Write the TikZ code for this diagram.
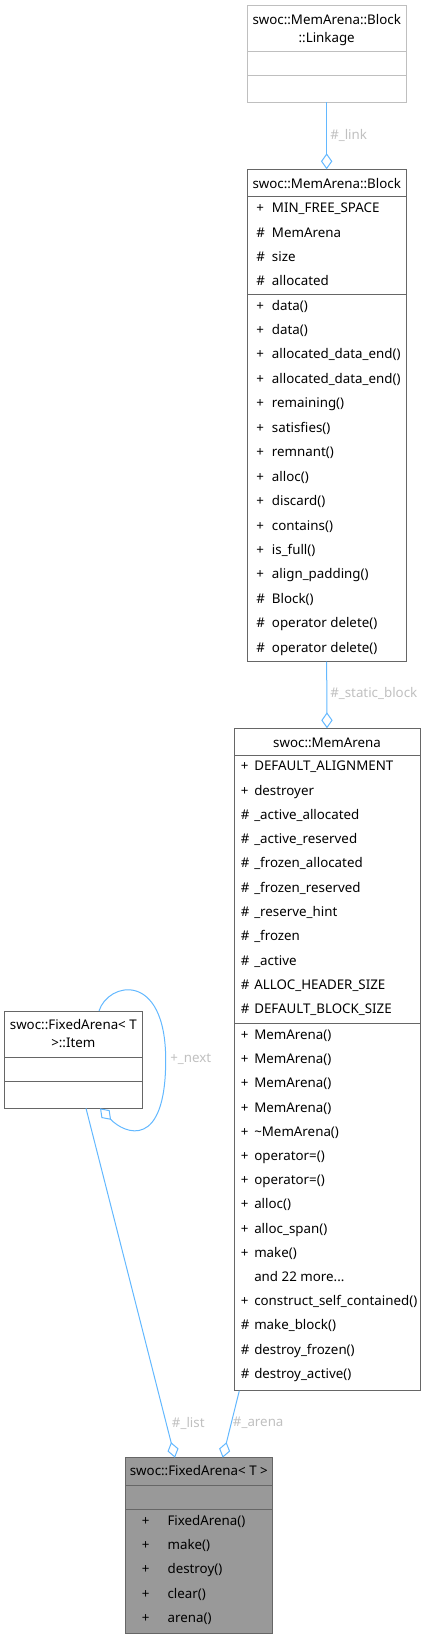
\documentclass[tikz,border=0pt]{standalone}
\usepackage{fontspec}
\setmainfont{Noto Sans}
\usetikzlibrary{arrows.meta}
\definecolor{edgec}{HTML}{63B8FF}
\definecolor{labelc}{HTML}{C0C0C0}
\definecolor{boxc}{HTML}{666666}
\definecolor{pale}{HTML}{BFBFBF}
\definecolor{mainc}{HTML}{999999}
\def\u{0.75pt}
\newcommand{\andmore}{and 22 more...}
\tikzset{
  sect/.style={draw=boxc, line width=0.75pt, fill=white, anchor=north west, inner sep=0pt, outer sep=0pt},
  row/.style={anchor=base west, inner sep=0pt},
  ttl/.style={anchor=base, inner sep=0pt},
  agg/.style={draw=edgec, line width=0.75pt, -{Diamond[open, fill=white, length=12pt, width=8.5pt]}},
  elabel/.style={anchor=west, text=labelc, inner sep=0pt}
}
\begin{document}
\begin{tikzpicture}[x=0.75pt, y=-0.75pt]
  \useasboundingbox (0,0) rectangle (425,1639);
  % swoc::MemArena::Block::Linkage
  \node[sect, draw=pale, minimum width=158.7*\u, minimum height=46.7*\u] (linkT) at (247.3,5) {};
  \node[sect, draw=pale, minimum width=158.7*\u, minimum height=24*\u] (linkA) at (247.3,51.7) {};
  \node[sect, draw=pale, minimum width=158.7*\u, minimum height=26.6*\u] (linkM) at (247.3,75.7) {};
  \node[ttl] (linkL1) at (326.7,24) {swoc::MemArena::Block};
  \node[ttl] (linkL2) at (326.7,42.3) {::Linkage};
  % swoc::MemArena::Block
  \node[sect, minimum width=158.7*\u, minimum height=27.4*\u] (blockT) at (247.3,169.3) {};
  \node[sect, minimum width=158.7*\u, minimum height=97.3*\u] (blockA) at (247.3,196.7) {};
  \node[sect, minimum width=158.7*\u, minimum height=367.7*\u] (blockM) at (247.3,294) {};
  \node[ttl] (blockL) at (326.7,188.3) {swoc::MemArena::Block};
  \foreach \v/\n [count=\i from 0] in {+/MIN\_FREE\_SPACE, \#/MemArena, \#/size, \#/allocated}{
    \node[row] (blockAv\i) at (256,212.7+\i*24.4) {\v};
    \node[row] (blockAn\i) at (271.7,212.7+\i*24.4) {\n};
  }
  \foreach \v/\n [count=\i from 0] in {+/data(), +/data(), +/allocated\_data\_end(), +/allocated\_data\_end(),
      +/remaining(), +/satisfies(), +/remnant(), +/alloc(), +/discard(), +/contains(), +/is\_full(),
      +/align\_padding(), \#/Block(), \#/operator delete(), \#/operator delete()}{
    \node[row] (blockMv\i) at (256,310+\i*24.45) {\v};
    \node[row] (blockMn\i) at (271.7,310+\i*24.45) {\n};
  }
  % swoc::MemArena
  \node[sect, minimum width=186*\u, minimum height=27.4*\u] (memT) at (234,728.3) {};
  \node[sect, minimum width=186*\u, minimum height=267.6*\u] (memA) at (234,755.7) {};
  \node[sect, minimum width=186*\u, minimum height=367.4*\u] (memM) at (234,1023.3) {};
  \node[ttl] (memL) at (327,747.7) {swoc::MemArena};
  \foreach \v/\n [count=\i from 0] in {+/DEFAULT\_ALIGNMENT, +/destroyer, \#/\_active\_allocated,
      \#/\_active\_reserved, \#/\_frozen\_allocated, \#/\_frozen\_reserved, \#/\_reserve\_hint,
      \#/\_frozen, \#/\_active, \#/ALLOC\_HEADER\_SIZE, \#/DEFAULT\_BLOCK\_SIZE}{
    \node[row] (memAv\i) at (240.5,770.7+\i*24.3) {\v};
    \node[row] (memAn\i) at (254,770.7+\i*24.3) {\n};
  }
  \foreach \v/\n [count=\i from 0] in {+/MemArena(), +/MemArena(), +/MemArena(), +/MemArena(),
      +/\textasciitilde MemArena(), +/operator=(), +/operator=(), +/alloc(), +/alloc\_span(), +/make(),
      {}/\andmore, +/construct\_self\_contained(), \#/make\_block(), \#/destroy\_frozen(),
      \#/destroy\_active()}{
    \node[row] (memMv\i) at (240.5,1039.5+\i*24.2) {\v};
    \node[row] (memMn\i) at (254,1039.5+\i*24.2) {\n};
  }
  % swoc::FixedArena< T >::Item
  \node[sect, minimum width=137.3*\u, minimum height=46.3*\u] (itemT) at (4.7,1011) {};
  \node[sect, minimum width=137.3*\u, minimum height=24.4*\u] (itemA) at (4.7,1057.3) {};
  \node[sect, minimum width=137.3*\u, minimum height=26.6*\u] (itemM) at (4.7,1081.7) {};
  \node[ttl] (itemL1) at (73.3,1029.3) {swoc::FixedArena< T};
  \node[ttl] (itemL2) at (73.3,1047.3) {>::Item};
  % swoc::FixedArena< T >
  \node[sect, fill=mainc, minimum width=147.7*\u, minimum height=27.6*\u] (fixT) at (125,1457.7) {};
  \node[sect, fill=mainc, minimum width=147.7*\u, minimum height=24*\u] (fixA) at (125,1485.3) {};
  \node[sect, fill=mainc, minimum width=147.7*\u, minimum height=124*\u] (fixM) at (125,1509.3) {};
  \node[ttl] (fixL) at (198.8,1475) {swoc::FixedArena< T >};
  \foreach \n [count=\i from 0] in {FixedArena(), make(), destroy(), clear(), arena()}{
    \node[ttl] (fixMv\i) at (145.7,1525+\i*24.4) {+};
    \node[row] (fixMn\i) at (167.3,1525+\i*24.4) {\n};
  }
  % aggregations
  \draw[agg] (linkM.south) -- (blockT.north);
  \node[elabel] (linkLbl) at (330,135) {\#\_link};
  \draw[agg] (blockM.south) -- (memT.north);
  \node[elabel] (staticLbl) at (330,693) {\#\_static\_block};
  \draw[agg] ([xshift=94.3*\u]itemT.north west) .. controls +(9,-29) and +(0,-90) .. ++(66.7,49)
    .. controls +(0,90) and +(25,26) .. ([xshift=95.3*\u]itemM.south west);
  \node[elabel] (nextLbl) at (170,1059) {+\_next};
  \draw[agg] ([xshift=81.3*\u]itemM.south west) -- ([xshift=50*\u]fixT.north west);
  \node[elabel] (listLbl) at (171.7,1423) {\#\_list};
  \draw[agg] ([xshift=5.3*\u]memM.south west) -- ([xshift=97.7*\u]fixT.north west);
  \node[elabel] (arenaLbl) at (232.7,1423) {\#\_arena};
\end{tikzpicture}
\end{document}
